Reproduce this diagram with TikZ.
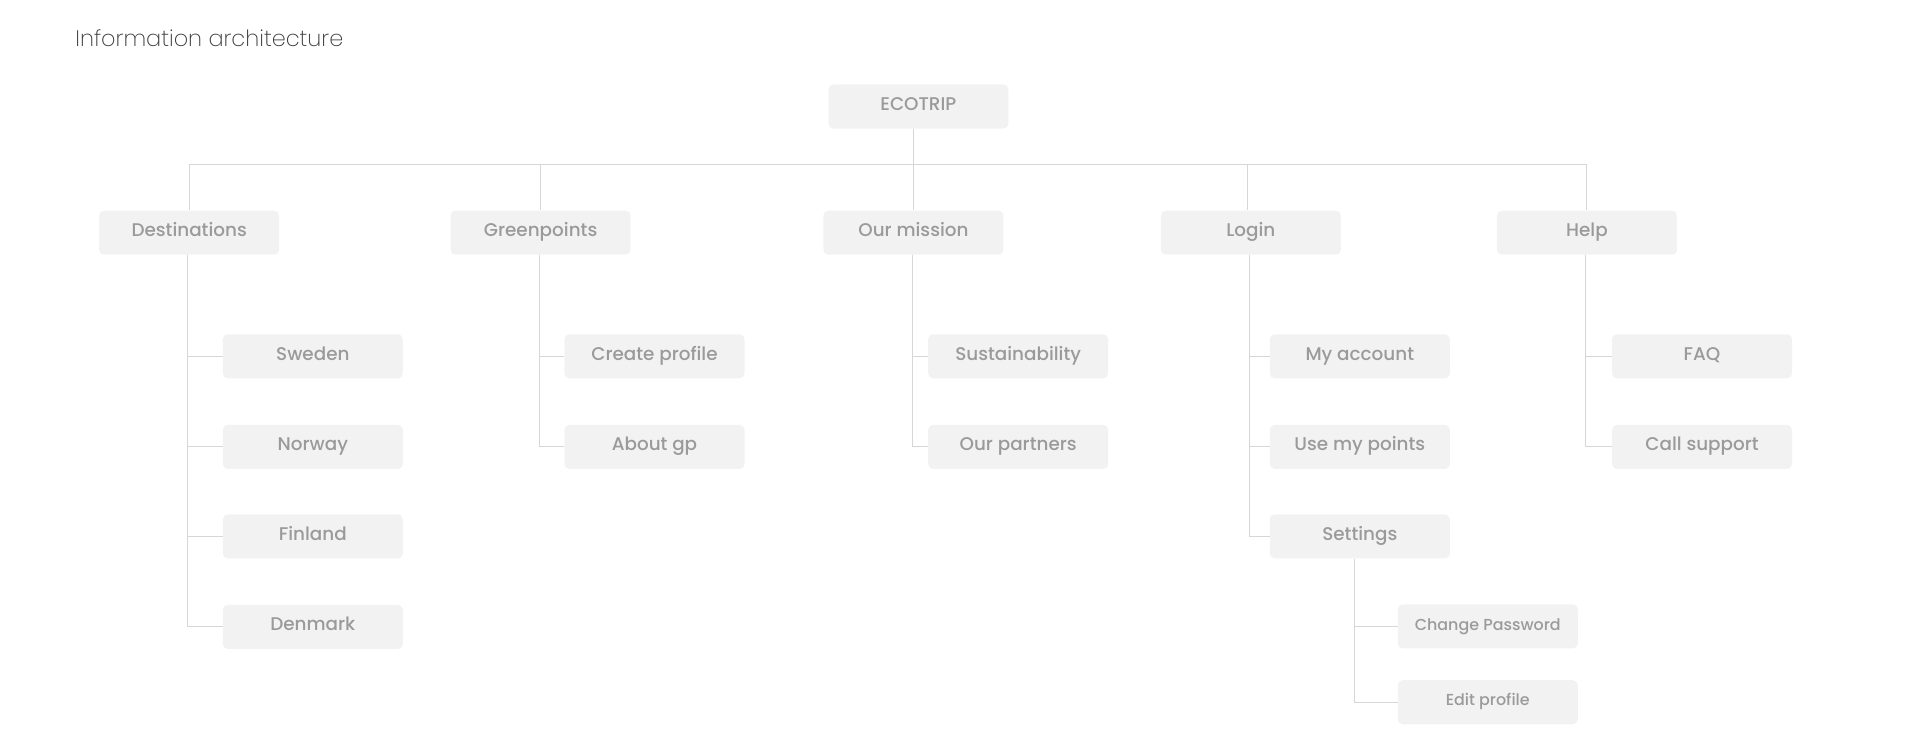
\documentclass[tikz,border=0pt]{standalone}
\usepackage{fontspec}
\setmainfont{Poppins Medium}
\newfontfamily\lightfont{Poppins ExtraLight}
\usetikzlibrary{positioning}
\definecolor{boxgray}{HTML}{F2F2F2}
\definecolor{textgray}{HTML}{9A9A9A}
\definecolor{linegray}{HTML}{D6D6D6}
\definecolor{titlegray}{HTML}{3A3A3A}

\begin{document}
\begin{tikzpicture}[x=1pt,y=-1pt,
	page/.style={fill=boxgray,rounded corners=4pt,minimum width=147pt,minimum height=36pt,
		text=textgray,font=\fontsize{15}{18}\selectfont,inner sep=0pt,text height=7pt,text depth=0.5pt},
	subpage/.style={page,font=\fontsize{13}{16}\selectfont,text height=6.6pt,text depth=0.5pt},
	link/.style={draw=linegray,line width=0.8pt}]
\useasboundingbox (0,0) rectangle (1568,607.6);
\node[anchor=west,text=titlegray,font=\lightfont\fontsize{18.3}{22}\selectfont] (title) at (58,31) {Information architecture};

% top level
\node[page] (eco) at (750,87) {ECOTRIP};
\node[page] (dest) at (154.5,190) {Destinations};
\node[page] (green) at (441.5,190) {Greenpoints};
\node[page] (mission) at (746,190) {Our mission};
\node[page] (login) at (1021.5,190) {Login};
\node[page] (help) at (1296,190) {Help};
\coordinate (bus) at (746,134);

% second level
\node[page] (sweden) at (255.5,291) {Sweden};
\node[page] (norway) at (255.5,365) {Norway};
\node[page] (finland) at (255.5,438) {Finland};
\node[page] (denmark) at (255.5,512) {Denmark};
\node[page] (create) at (534.5,291) {Create profile};
\node[page] (aboutgp) at (534.5,365) {About gp};
\node[page] (sustain) at (831.5,291) {Sustainability};
\node[page] (partners) at (831.5,365) {Our partners};
\node[page] (account) at (1110.5,291) {My account};
\node[page] (points) at (1110.5,365) {Use my points};
\node[page] (settings) at (1110.5,438) {Settings};
\node[page] (faq) at (1390,291) {FAQ};
\node[page] (support) at (1390,365) {Call support};

% third level
\node[subpage] (password) at (1215,511.5) {Change Password};
\node[subpage] (editprof) at (1215,573.5) {Edit profile};

\draw[link] (mission.north |- eco.south) -- (mission.north);
\draw[link] (dest.north) -- (dest.north |- bus) -- (help.north |- bus) -- (help.north);
\draw[link] (green.north) -- (green.north |- bus);
\draw[link] ([xshift=-3pt]login.north) -- ([xshift=-3pt]login.north |- bus);

\foreach \top/\sub in {dest/sweden,dest/norway,dest/finland,dest/denmark,
	green/create,green/aboutgp,mission/sustain,mission/partners,
	login/account,login/points,login/settings,help/faq,help/support}
	\draw[link] ([xshift=-1pt]\top.south) |- (\sub.west);
\foreach \sub in {password,editprof}
	\draw[link] ([xshift=-4pt]settings.south) |- (\sub.west);
\end{tikzpicture}
\end{document}
